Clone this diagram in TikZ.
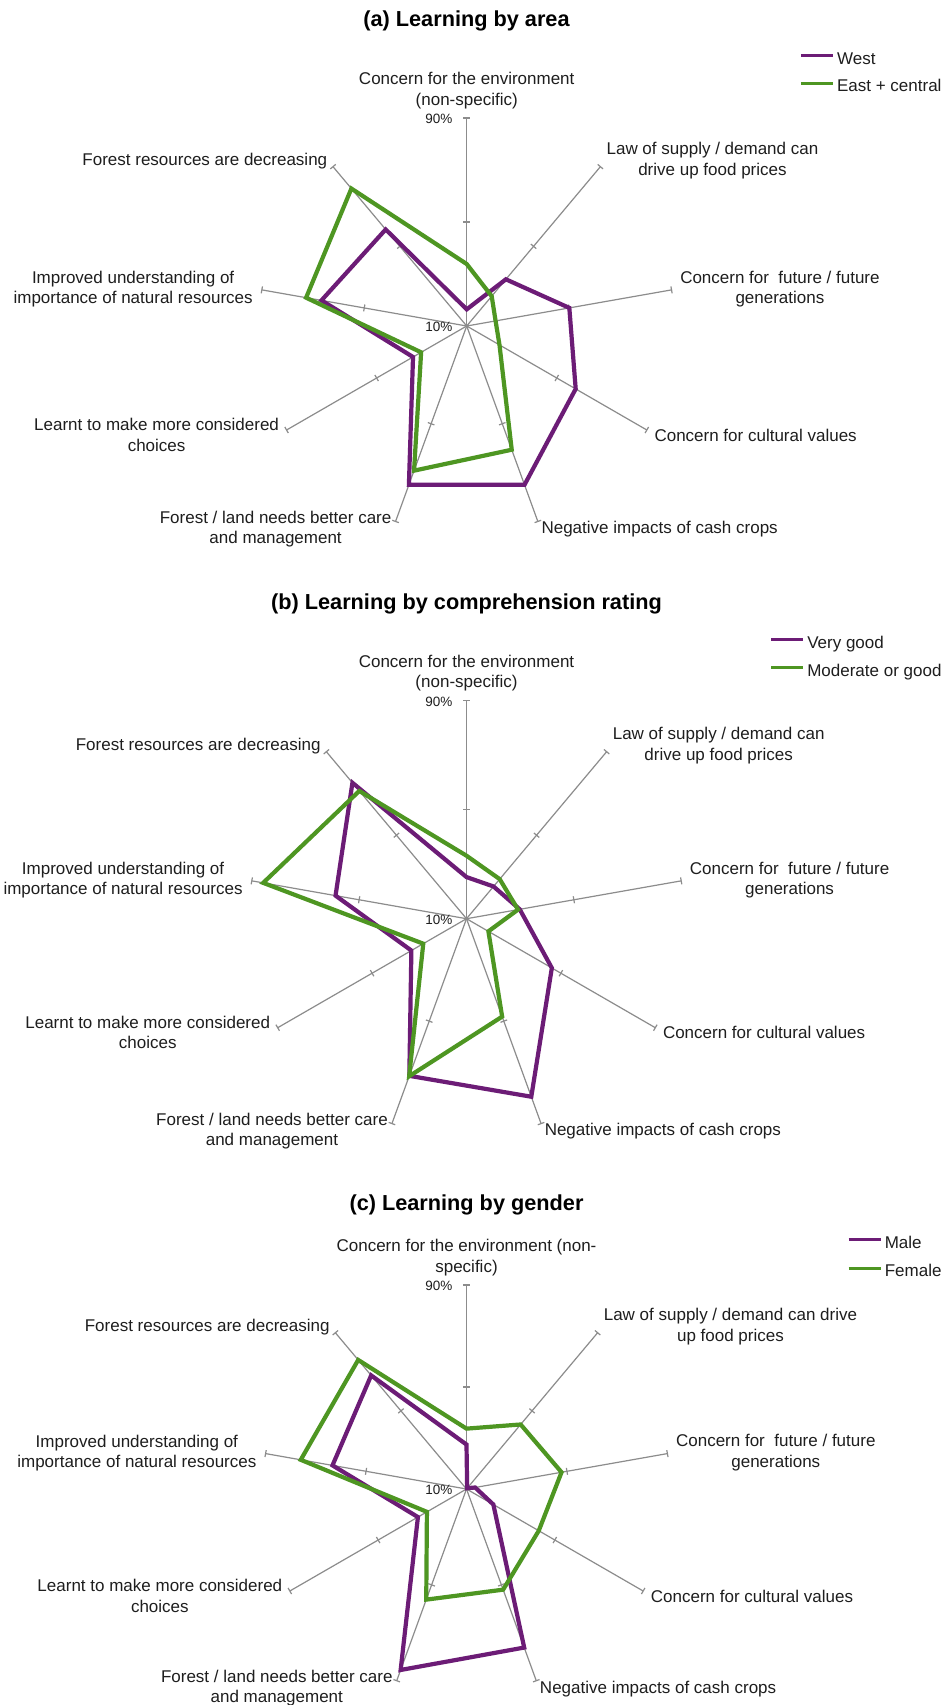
\documentclass[tikz,border=0pt]{standalone}
\usepackage{fontspec}
\setmainfont{Liberation Sans}
\usetikzlibrary{calc}
\definecolor{plum}{RGB}{108,28,118}
\definecolor{leaf}{RGB}{78,150,34}
\definecolor{axisgray}{RGB}{140,140,140}
\definecolor{ink}{RGB}{30,30,30}
\tikzset{
  axisline/.style={draw=axisgray, line width=1.2pt},
  lbl/.style={font=\fontsize{17}{20.4}\selectfont, text=ink, align=center, inner sep=0pt},
  pct/.style={font=\fontsize{13.5}{16}\selectfont, text=ink, inner sep=0pt, anchor=east},
  ttl/.style={font=\fontsize{21.7}{26}\selectfont\bfseries, text=black, inner sep=0pt, anchor=base},
  seriesA/.style={draw=plum, line width=4.2pt, line join=miter, miter limit=4},
  seriesB/.style={draw=leaf, line width=4.2pt, line join=miter, miter limit=4},
  legline/.style={line width=3pt},
  legtxt/.style={font=\fontsize{17}{20.4}\selectfont, text=ink, inner sep=0pt},
}
% axes of one chart: #1 id, #2 radius
\newcommand\radaraxes[2]{%
  \coordinate (#1-o) at (0,0);
  \foreach \k in {0,...,8}{%
    \pgfmathsetmacro\ang{90-40*\k}
    \coordinate (#1-e\k) at (\ang:{#2});
    \coordinate (#1-m\k) at (\ang:{#2/2});
    \draw[axisline] (#1-o) -- (#1-e\k);
    \draw[axisline] ($(#1-e\k)+(\ang+90:3.5)$) -- ($(#1-e\k)+(\ang-90:3.5)$);
    \draw[axisline] ($(#1-m\k)+(\ang+90:3.5)$) -- ($(#1-m\k)+(\ang-90:3.5)$);
  }%
  \node[pct] (#1-p90) at ($(#1-e0)+(-14,-1)$) {90\%};
  \node[pct] (#1-p10) at ($(#1-o)+(-14,-1.3)$) {10\%};
}
% data polygon: #1 id, #2 style, #3 radius, #4 nine fractions
\newcommand\radarpoly[4]{%
  \foreach \v [count=\k from 0] in {#4}{\coordinate (#1-\k) at ({90-40*\k}:{\v*#3});}
  \draw[#2] (#1-0) -- (#1-1) -- (#1-2) -- (#1-3) -- (#1-4) -- (#1-5) -- (#1-6) -- (#1-7) -- (#1-8) -- cycle;
}
% category labels: #1 id, #2 top text, #3 law text
\newcommand\radarlabels[3]{%
  \node[lbl, anchor=center] (#1-t0) at ($(#1-e0)+(0,27.5)$) {#2};
  \node[lbl, anchor=west] (#1-t1) at ($(#1-e1)+(6,6)$) {#3};
  \node[lbl, anchor=west] (#1-t2) at ($(#1-e2)+(8.5,1)$) {Concern for\ \ future / future\\generations};
  \node[lbl, anchor=west] (#1-t3) at ($(#1-e3)+(7.5,-5)$) {Concern for cultural values};
  \node[lbl, anchor=west] (#1-t4) at ($(#1-e4)+(3.5,-8)$) {Negative impacts of cash crops};
  \node[lbl, anchor=east] (#1-t5) at ($(#1-e5)+(-4,-7.5)$) {Forest / land needs better care\\and management};
  \node[lbl, anchor=east] (#1-t6) at ($(#1-e6)+(-7.4,-5)$) {Learnt to make more considered\\choices};
  \node[lbl, anchor=east] (#1-t7) at ($(#1-e7)+(-9,0.7)$) {Improved understanding of\\importance of natural resources};
  \node[lbl, anchor=east] (#1-t8) at ($(#1-e8)+(-5.6,5.3)$) {Forest resources are decreasing};
}
% legend: #1 id, #2 purple text, #3 green text, #4 purple line y, #5 green line y
\newcommand\radarlegend[5]{%
  \node[legtxt, anchor=base east] (#1-lg2) at (941.7,{-(#5)-8.6}) {#3};
  \node[legtxt, anchor=base west] (#1-lg1) at (#1-lg2.base west |- 0,{-(#4)-8.6}) {#2};
  \coordinate (#1-lgA1) at ($(#1-lg1.base west)+(-36,8.6)$);
  \coordinate (#1-lgB1) at ($(#1-lg1.base west)+(-4,8.6)$);
  \coordinate (#1-lgA2) at ($(#1-lg2.base west)+(-36,8.6)$);
  \coordinate (#1-lgB2) at ($(#1-lg2.base west)+(-4,8.6)$);
  \draw[legline, plum] (#1-lgA1) -- (#1-lgB1);
  \draw[legline, leaf] (#1-lgA2) -- (#1-lgB2);
}
\begin{document}
\begin{tikzpicture}[x=1pt,y=1pt]
\path[use as bounding box, fill=white] (0,0) rectangle (946,-1705);

% ---------- (a) ----------
\node[ttl] (a-title) at (466.5,-26.5) {(a) Learning by area};
\radarlegend{a}{West}{East + central}{55.7}{83.3}
\begin{scope}[shift={(466.7,-326)}]
  \radaraxes{a}{208}
  \radarlabels{a}{Concern for the environment\\(non-specific)}{Law of supply / demand can\\drive up food prices}
  \radarpoly{aP}{seriesA}{208}{0.080,0.293,0.501,0.605,0.8125,0.8125,0.298,0.709,0.606}
  \radarpoly{aG}{seriesB}{208}{0.298,0.187,0.141,0.182,0.633,0.740,0.253,0.784,0.8625}
\end{scope}

% ---------- (b) ----------
\node[ttl] (b-title) at (466.5,-609.5) {(b) Learning by comprehension rating};
\radarlegend{b}{Very good}{Moderate or good}{639.6}{667.7}
\begin{scope}[shift={(466.5,-918.7)}]
  \radaraxes{b}{218}
  \radarlabels{b}{Concern for the environment\\(non-specific)}{Law of supply / demand can\\drive up food prices}
  \radarpoly{bP}{seriesA}{218}{0.191,0.193,0.248,0.452,0.869,0.767,0.292,0.610,0.814}
  \radarpoly{bG}{seriesB}{218}{0.289,0.237,0.240,0.116,0.478,0.769,0.229,0.947,0.765}
\end{scope}

% ---------- (c) ----------
\node[ttl] (c-title) at (466.5,-1210.7) {(c) Learning by gender};
\radarlegend{c}{Male}{Female}{1239.7}{1268}
\begin{scope}[shift={(466.5,-1489)}]
  \radaraxes{c}{204}
  \radarlabels{c}{Concern for the environment (non-\\specific)}{Law of supply / demand can drive\\up food prices}
  \radarpoly{cP}{seriesA}{204}{0.218,0.005,0.043,0.152,0.827,0.944,0.275,0.667,0.727}
  \radarpoly{cG}{seriesB}{204}{0.296,0.413,0.473,0.409,0.525,0.577,0.224,0.825,0.826}
\end{scope}
\end{tikzpicture}
\end{document}
